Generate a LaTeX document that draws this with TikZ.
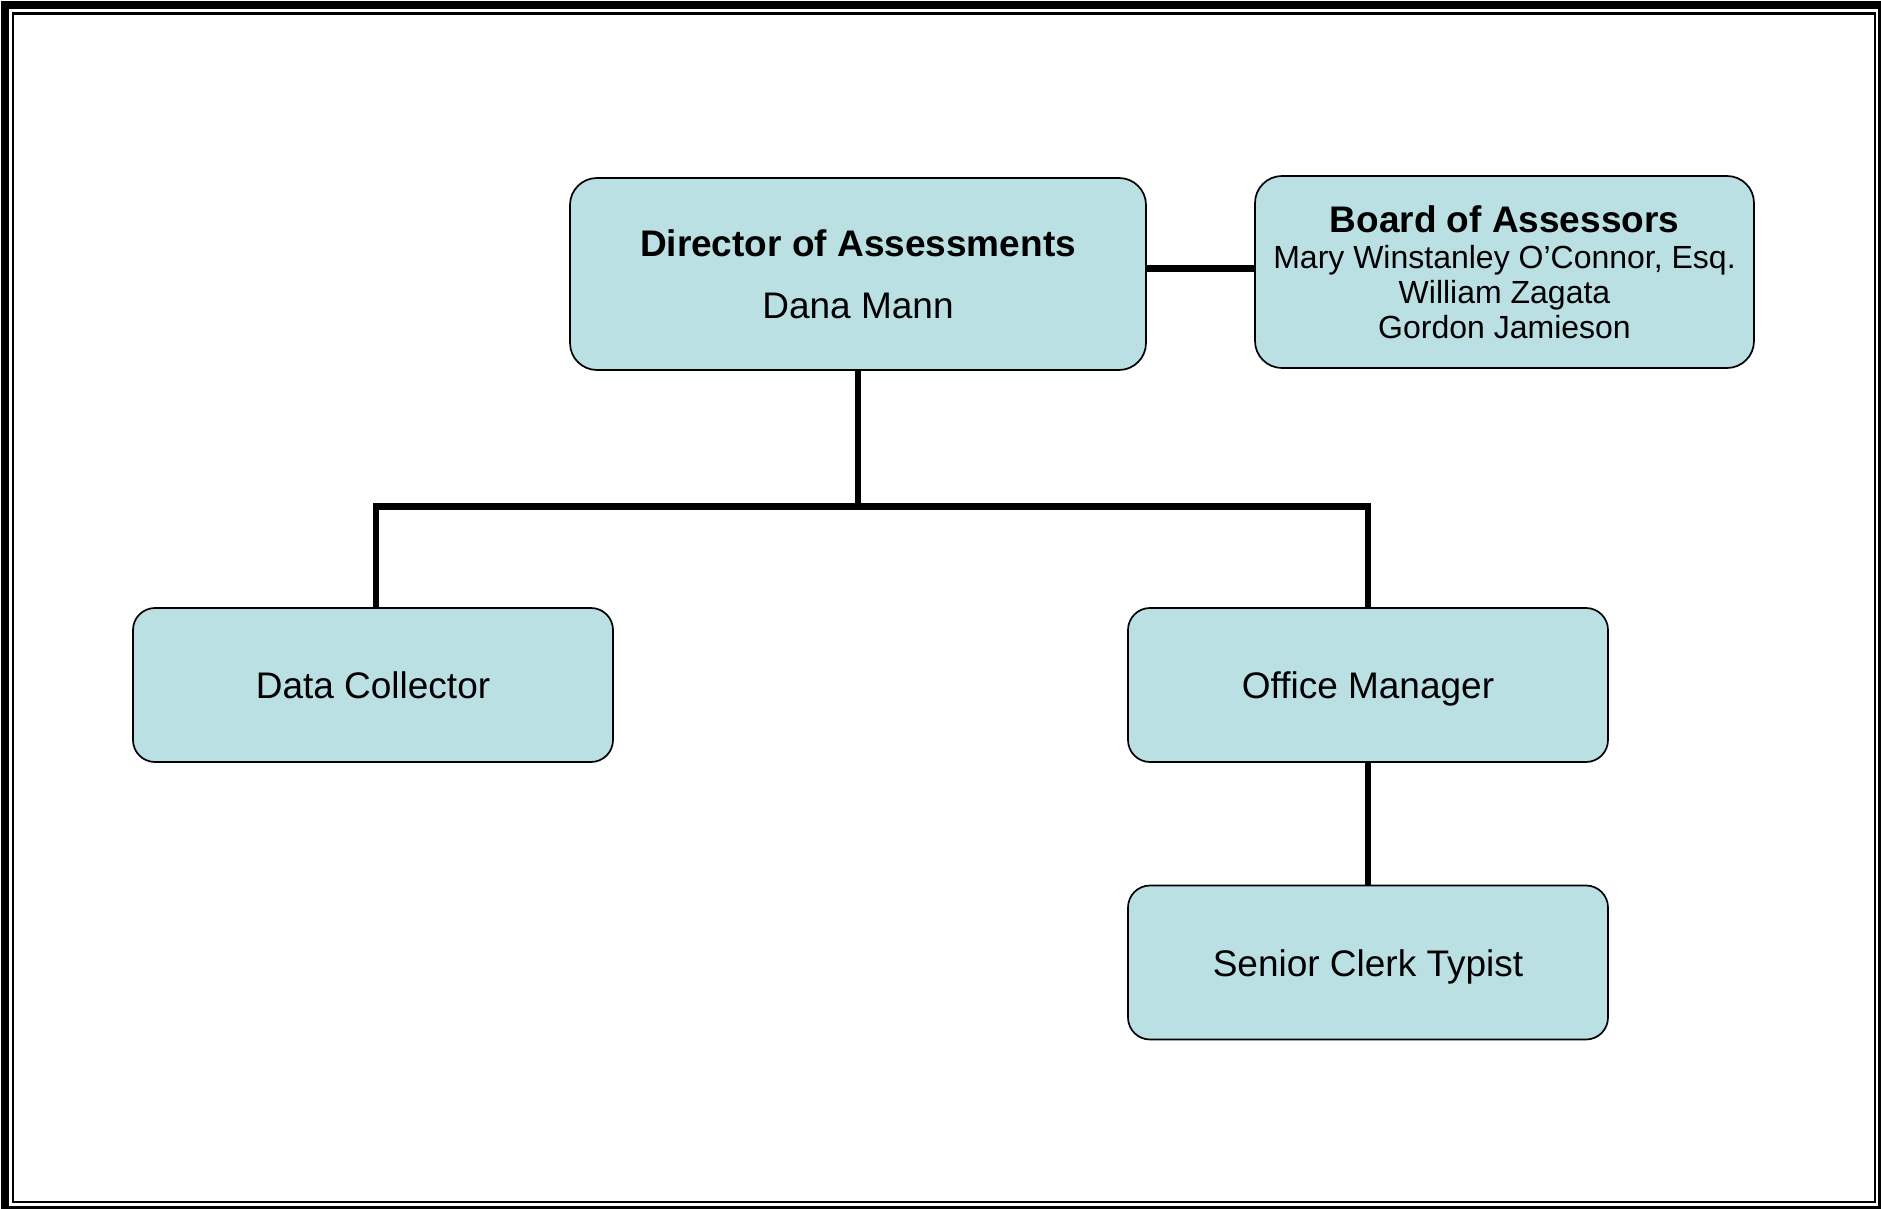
\documentclass[tikz,border=0pt]{standalone}
\usepackage{fontspec}
\setmainfont{Liberation Sans}
\definecolor{boxfill}{RGB}{186,224,228}
\begin{document}
\begin{tikzpicture}[x=0.5pt,y=-0.5pt,
  orgbox/.style={draw=black, line width=0.85pt, fill=boxfill, rounded corners=#1,
    inner sep=0pt, align=center},
  orgbox/.default=11pt,
  unitbox/.style={orgbox, minimum width=240pt, minimum height=77pt,
    font=\fontsize{18.5}{22}\selectfont, text height=13.5pt, text depth=0pt},
  link/.style={draw=black, line width=3.2pt, line join=miter, line cap=butt},
  frameouter/.style={draw=black, line width=4pt},
  frameinner/.style={draw=black, line width=1.25pt}]

  \useasboundingbox (0,0) rectangle (1881,1209);

  % double page frame
  \draw[frameouter] (5,5.5) rectangle (1882,1210);
  \draw[frameinner] (13,13.5) rectangle (1875,1202);

  % boxes
  \node[orgbox=13.5pt, minimum width=288pt, minimum height=96pt,
        font=\fontsize{18.5}{31.2}\selectfont] (dir) at (858,274)
    {\textbf{Director of Assessments}\\Dana Mann};
  \node[orgbox=13.5pt, minimum width=249.5pt, minimum height=96pt,
        font=\fontsize{16}{17.4}\selectfont] (board) at (1504.5,272)
    {{\fontsize{18.5}{19}\selectfont\textbf{Board of Assessors}}\\[0.6pt]
     Mary Winstanley O’Connor, Esq.\\William Zagata\\Gordon Jamieson};
  \node[unitbox] (dc) at (373,685) {Data Collector};
  \node[unitbox] (om) at (1368,685) {Office Manager};
  \node[unitbox] (sct) at (1368,962.5) {Senior Clerk Typist};

  \coordinate (bus) at (858,506.5);

  % connectors
  \draw[link] ([yshift=1.75pt]board.west) -- ([yshift=1.75pt]board.west -| dir.east);
  \draw[link] (dir.south) -- (dir.south |- bus);
  \draw[link] ([xshift=1.5pt]dc.north) -- ([xshift=1.5pt]dc.north |- bus)
    -- (om.north |- bus) -- (om.north);
  \draw[link] (om.south) -- (sct.north);
\end{tikzpicture}
\end{document}
